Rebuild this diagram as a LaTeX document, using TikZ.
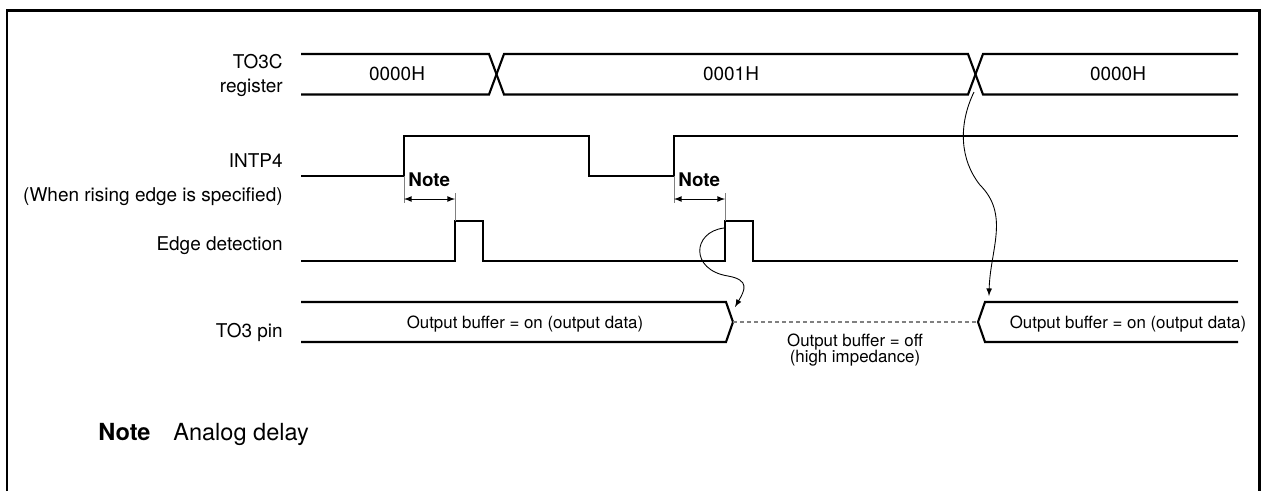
\documentclass[tikz,border=0pt]{standalone}
\usepackage{fontspec}
\setmainfont{TeX Gyre Heros}

\begin{document}
\begin{tikzpicture}[x=0.02cm,y=-0.02cm,>=latex,
    sig/.style={line width=1.2pt},
    guide/.style={gray,line width=0.5pt},
    lbl/.style={inner sep=0pt,font=\fontsize{10.8}{14.2}\selectfont},
    buf/.style={inner sep=0pt,font=\fontsize{9.6}{11}\selectfont},
    notelbl/.style={inner sep=0pt,font=\fontsize{10.7}{13}\selectfont\bfseries}]
  \useasboundingbox (0,0) rectangle (1262,491);
  \draw[line width=1.7pt] (7,491) -- (7,10.5) -- (1259,10.5) -- (1259,491);

  \node[lbl,anchor=east,align=right] (regname) at (283,75.5) {TO3C\\register};
  \node[lbl,anchor=base east] (intpname) at (283,167) {INTP4};
  \node[lbl,anchor=base east] (risenote) at (283,201) {(When rising edge is specified)};
  \node[lbl,anchor=base east] (edgename) at (283,250) {Edge detection};
  \node[lbl,anchor=base east] (pinname) at (283,337.5) {TO3 pin};

  \draw[sig] (301,54) -- (489,54) -- (504,94.5) -- (968,94.5) -- (983,54) -- (1238,54);
  \draw[sig] (301,94.5) -- (489,94.5) -- (504,54) -- (968,54) -- (983,94.5) -- (1238,94.5);
  \node[lbl] (vala) at (397,74) {0000H};
  \node[lbl] (valb) at (731,74) {0001H};
  \node[lbl] (valc) at (1118,74) {0000H};

  \draw[sig] (301,176) -- (404,176) -- (404,136) -- (589,136) -- (589,176)
    -- (674,176) -- (674,136) -- (1238,136);
  \draw[sig] (301,261) -- (455,261) -- (455,221) -- (483,221) -- (483,261)
    -- (725,261) -- (725,221) -- (753,221) -- (753,261) -- (1238,261);

  \draw[sig] (301,302) -- (726,302) -- (733,322) -- (726,342) -- (301,342);
  \draw[sig] (1238,302) -- (985,302) -- (978,322) -- (985,342) -- (1238,342);
  \draw[gray,line width=0.6pt,dash pattern=on 2.3pt off 1.7pt] (733,322) -- (978,322);
  \node[buf,anchor=base] (bufon) at (525,328) {Output buffer = on (output data)};
  \node[buf,anchor=base] (bufonb) at (1128,328) {Output buffer = on (output data)};
  \node[buf,anchor=base] (bufoff) at (855,346) {Output buffer = off};
  \node[buf,anchor=base] (bufhiz) at (855,362.5) {(high impedance)};

  % analog delay marks
  \coordinate (dla) at (404,199);
  \coordinate (dlb) at (455,199);
  \coordinate (dma) at (674,199);
  \coordinate (dmb) at (725,199);
  \draw[guide] (404,176) -- (404,203) (455,193) -- (455,221);
  \draw[guide] (674,176) -- (674,203) (725,193) -- (725,221);
  \draw[<->,line width=0.5pt] (dla) -- (dlb);
  \draw[<->,line width=0.5pt] (dma) -- (dmb);
  \node[notelbl,anchor=base west] (notea) at (408,186) {Note};
  \node[notelbl,anchor=base west] (noteb) at (678,186) {Note};

  \coordinate (pulsetop) at (724,228);
  \coordinate (offedge) at (735,307);
  \coordinate (xover) at (974,92);
  \coordinate (onedge) at (989,296);
  \draw[->,line width=0.5pt] (pulsetop) .. controls (692,232) and (690,270) .. (728,276)
    .. controls (750,280) and (745,290) .. (offedge);
  \draw[->,line width=0.5pt] (xover) .. controls (958,125) and (960,160) .. (980,185)
    .. controls (1010,215) and (990,250) .. (onedge);

  \node[inner sep=0pt,anchor=base west,font=\fontsize{13.4}{16}\selectfont\bfseries] (footnote) at (98,440) {Note};
  \node[inner sep=0pt,anchor=base west,font=\fontsize{13.4}{16}\selectfont] (footdelay) at (173,440) {Analog delay};
\end{tikzpicture}
\end{document}
